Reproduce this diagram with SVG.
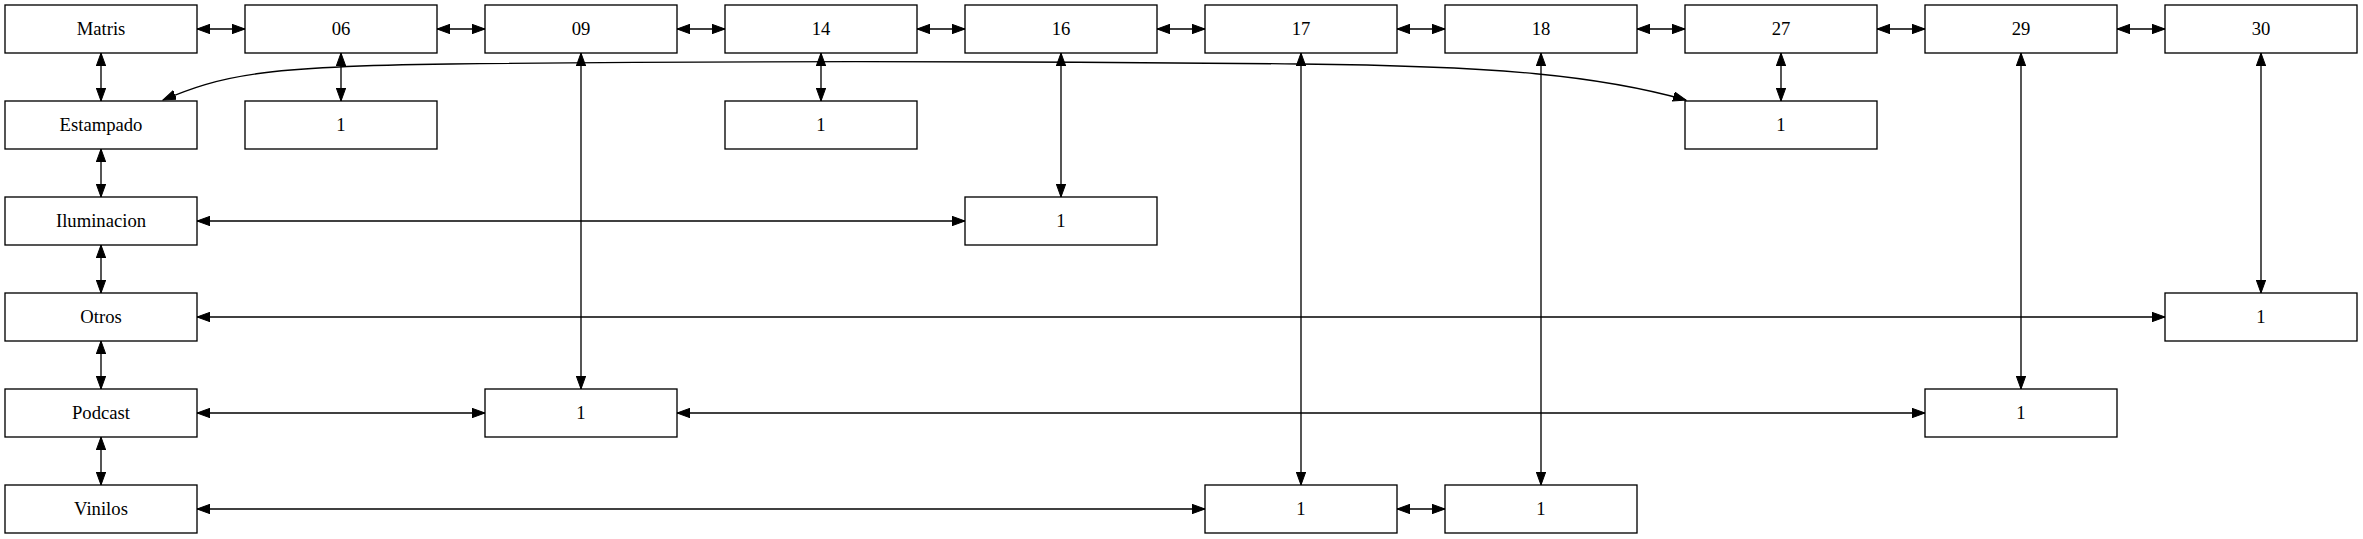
<svg xmlns="http://www.w3.org/2000/svg" width="2363" height="539" viewBox="0 0 2363 539">
<defs>
<marker id="ah" markerUnits="userSpaceOnUse" markerWidth="14" markerHeight="10" refX="13" refY="4.7" orient="auto-start-reverse" viewBox="0 0 14 10">
<path d="M0,0 L13,4.7 L0,9.4 z" fill="#000" stroke="#000" stroke-width="1"/>
</marker>
<style>
.n rect{fill:#fff;stroke:#000;stroke-width:1.33}
.n text{font-family:'Liberation Serif','DejaVu Serif',serif;font-size:18.67px;text-anchor:middle;fill:#000}
.e path{fill:none;stroke:#000;stroke-width:1.33;marker-start:url(#ah);marker-end:url(#ah)}
</style>
</defs>
<rect width="2363" height="539" fill="#fff"/>
<g id="edges" class="e">
<path d="M197,29 H245"/>
<path d="M437,29 H485"/>
<path d="M677,29 H725"/>
<path d="M917,29 H965"/>
<path d="M1157,29 H1205"/>
<path d="M1397,29 H1445"/>
<path d="M1637,29 H1685"/>
<path d="M1877,29 H1925"/>
<path d="M2117,29 H2165"/>
<path d="M101,53 V101"/>
<path d="M101,149 V197"/>
<path d="M101,245 V293"/>
<path d="M101,341 V389"/>
<path d="M101,437 V485"/>
<path d="M341,53 V101"/>
<path d="M581,53 V389"/>
<path d="M821,53 V101"/>
<path d="M1061,53 V197"/>
<path d="M1301,53 V485"/>
<path d="M1541,53 V485"/>
<path d="M1781,53 V101"/>
<path d="M2021,53 V389"/>
<path d="M2261,53 V293"/>
<path d="M163,100 C220,76 260,66 450,64 C700,61 1000,61 1300,64 C1500,66 1600,76 1686,100"/>
<path d="M197,221 H965"/>
<path d="M197,317 H2165"/>
<path d="M197,413 H485"/>
<path d="M677,413 H1925"/>
<path d="M197,509 H1205"/>
<path d="M1397,509 H1445"/>
</g>
<g font-family="Liberation Serif, serif">
<g id="Matris" class="n"><rect x="5" y="5" width="192" height="48"/><text x="101" y="35">Matris</text></g>
<g id="n06" class="n"><rect x="245" y="5" width="192" height="48"/><text x="341" y="35">06</text></g>
<g id="n09" class="n"><rect x="485" y="5" width="192" height="48"/><text x="581" y="35">09</text></g>
<g id="n14" class="n"><rect x="725" y="5" width="192" height="48"/><text x="821" y="35">14</text></g>
<g id="n16" class="n"><rect x="965" y="5" width="192" height="48"/><text x="1061" y="35">16</text></g>
<g id="n17" class="n"><rect x="1205" y="5" width="192" height="48"/><text x="1301" y="35">17</text></g>
<g id="n18" class="n"><rect x="1445" y="5" width="192" height="48"/><text x="1541" y="35">18</text></g>
<g id="n27" class="n"><rect x="1685" y="5" width="192" height="48"/><text x="1781" y="35">27</text></g>
<g id="n29" class="n"><rect x="1925" y="5" width="192" height="48"/><text x="2021" y="35">29</text></g>
<g id="n30" class="n"><rect x="2165" y="5" width="192" height="48"/><text x="2261" y="35">30</text></g>
<g id="Estampado" class="n"><rect x="5" y="101" width="192" height="48"/><text x="101" y="131">Estampado</text></g>
<g id="Iluminacion" class="n"><rect x="5" y="197" width="192" height="48"/><text x="101" y="227">Iluminacion</text></g>
<g id="Otros" class="n"><rect x="5" y="293" width="192" height="48"/><text x="101" y="323">Otros</text></g>
<g id="Podcast" class="n"><rect x="5" y="389" width="192" height="48"/><text x="101" y="419">Podcast</text></g>
<g id="Vinilos" class="n"><rect x="5" y="485" width="192" height="48"/><text x="101" y="515">Vinilos</text></g>
<g id="e06_1" class="n"><rect x="245" y="101" width="192" height="48"/><text x="341" y="131">1</text></g>
<g id="e14_1" class="n"><rect x="725" y="101" width="192" height="48"/><text x="821" y="131">1</text></g>
<g id="e27_1" class="n"><rect x="1685" y="101" width="192" height="48"/><text x="1781" y="131">1</text></g>
<g id="i16_1" class="n"><rect x="965" y="197" width="192" height="48"/><text x="1061" y="227">1</text></g>
<g id="o30_1" class="n"><rect x="2165" y="293" width="192" height="48"/><text x="2261" y="323">1</text></g>
<g id="p09_1" class="n"><rect x="485" y="389" width="192" height="48"/><text x="581" y="419">1</text></g>
<g id="p29_1" class="n"><rect x="1925" y="389" width="192" height="48"/><text x="2021" y="419">1</text></g>
<g id="v17_1" class="n"><rect x="1205" y="485" width="192" height="48"/><text x="1301" y="515">1</text></g>
<g id="v18_1" class="n"><rect x="1445" y="485" width="192" height="48"/><text x="1541" y="515">1</text></g>
</g>
</svg>
